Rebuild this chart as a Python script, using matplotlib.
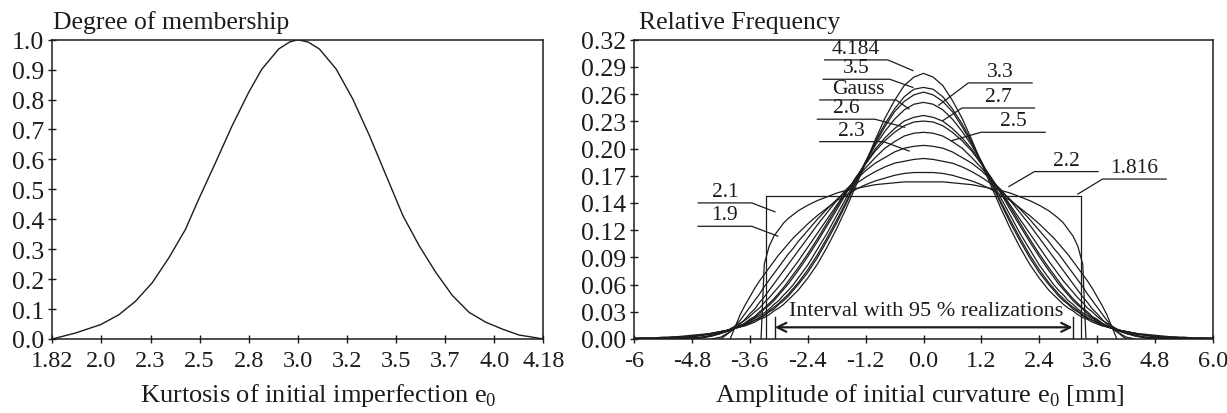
import numpy as np
import matplotlib
matplotlib.use('Agg')
import matplotlib.pyplot as plt

plt.rcParams['font.family'] = ['Liberation Serif', 'DejaVu Serif']
plt.rcParams['mathtext.fontset'] = 'custom'
plt.rcParams['mathtext.rm'] = 'Liberation Serif'

# ---------------- left panel: membership function ----------------
kurt_x = [1.816, 1.928, 2.049, 2.137, 2.217, 2.298, 2.378, 2.458, 2.522, 2.603, 2.683,
          2.763, 2.827, 2.908, 2.96, 3.0, 3.05, 3.104, 3.185, 3.265, 3.346, 3.426, 3.507,
          3.585, 3.665, 3.746, 3.826, 3.907, 3.987, 4.068, 4.115, 4.184]
membership = [0.0, 0.020, 0.048, 0.081, 0.126, 0.188, 0.271, 0.366, 0.467, 0.589, 0.712,
              0.824, 0.902, 0.969, 0.992, 1.0, 0.992, 0.969, 0.902, 0.802, 0.679, 0.546, 0.412,
              0.312, 0.223, 0.145, 0.089, 0.056, 0.033, 0.013, 0.008, 0.0]
left_xticklabels = ['1.82', '2.0', '2.3', '2.5', '2.8', '3.0', '3.2', '3.5', '3.7', '4.0', '4.18']
left_yticklabels = ['0.0', '0.1', '0.2', '0.3', '0.4', '0.5', '0.6', '0.7', '0.8', '0.9', '1.0']

# ---------------- right panel: relative frequency curves ----------------
# amplitude e0 >= 0 (curves are symmetric about 0)
e0 = [0.0, 0.2, 0.4, 0.6, 0.8, 1.0, 1.2, 1.4, 1.6, 1.8, 2.0, 2.2, 2.4, 2.6,
      2.7, 2.8, 2.9, 3.0, 3.1, 3.2, 3.3, 3.4, 3.5, 3.6, 3.7, 3.8,
      4.0, 4.2, 4.4, 4.6, 4.8, 5.0, 5.2, 5.4, 5.6, 5.8, 6.0]
f_4184 = [0.284, 0.280, 0.271, 0.255, 0.236, 0.213, 0.188, 0.164, 0.140, 0.118, 0.098, 0.080, 0.065, 0.052,
          0.047, 0.042, 0.037, 0.033, 0.030, 0.026, 0.023, 0.021, 0.018, 0.016, 0.014, 0.013,
          0.010, 0.008, 0.006, 0.005, 0.004, 0.003, 0.002, 0.002, 0.001, 0.001, 0.001]
f_35 = [0.269, 0.267, 0.259, 0.246, 0.230, 0.211, 0.189, 0.167, 0.145, 0.124, 0.105, 0.087, 0.071, 0.058,
        0.052, 0.046, 0.041, 0.037, 0.032, 0.029, 0.025, 0.022, 0.020, 0.017, 0.015, 0.013,
        0.010, 0.008, 0.006, 0.004, 0.003, 0.002, 0.002, 0.001, 0.001, 0.001, 0.001]
f_33 = [0.264, 0.261, 0.254, 0.243, 0.227, 0.209, 0.190, 0.169, 0.147, 0.127, 0.108, 0.090, 0.074, 0.060,
        0.054, 0.048, 0.043, 0.038, 0.034, 0.030, 0.026, 0.023, 0.020, 0.018, 0.015, 0.013,
        0.010, 0.008, 0.006, 0.004, 0.003, 0.002, 0.002, 0.001, 0.001, 0.001, 0.0]
f_gauss = [0.253, 0.251, 0.245, 0.235, 0.222, 0.207, 0.189, 0.171, 0.151, 0.132, 0.113, 0.096, 0.079, 0.065,
           0.058, 0.052, 0.047, 0.041, 0.037, 0.032, 0.028, 0.025, 0.022, 0.019, 0.016, 0.014,
           0.010, 0.007, 0.005, 0.004, 0.002, 0.002, 0.001, 0.001, 0.0, 0.0, 0.0]
f_27 = [0.239, 0.237, 0.233, 0.225, 0.215, 0.203, 0.188, 0.172, 0.156, 0.138, 0.121, 0.104, 0.088, 0.073,
        0.066, 0.059, 0.053, 0.047, 0.041, 0.036, 0.032, 0.027, 0.023, 0.020, 0.017, 0.014,
        0.010, 0.006, 0.004, 0.002, 0.001, 0.001, 0.0, 0.0, 0.0, 0.0, 0.0]
f_26 = [0.233, 0.232, 0.228, 0.221, 0.212, 0.201, 0.187, 0.173, 0.157, 0.141, 0.124, 0.107, 0.091, 0.076,
        0.069, 0.062, 0.055, 0.049, 0.043, 0.038, 0.033, 0.029, 0.024, 0.021, 0.017, 0.014,
        0.009, 0.006, 0.003, 0.002, 0.001, 0.0, 0.0, 0.0, 0.0, 0.0, 0.0]
f_25 = [0.221, 0.220, 0.217, 0.211, 0.204, 0.194, 0.183, 0.171, 0.158, 0.143, 0.128, 0.113, 0.098, 0.083,
        0.076, 0.069, 0.062, 0.056, 0.050, 0.044, 0.039, 0.033, 0.029, 0.024, 0.020, 0.017,
        0.011, 0.006, 0.003, 0.001, 0.0, 0.0, 0.0]
f_23 = [0.207, 0.206, 0.204, 0.200, 0.194, 0.188, 0.180, 0.170, 0.160, 0.148, 0.135, 0.122, 0.108, 0.094,
        0.087, 0.080, 0.073, 0.066, 0.059, 0.052, 0.045, 0.039, 0.032, 0.027, 0.021, 0.016,
        0.008, 0.002, 0.0]
f_22 = [0.193, 0.192, 0.190, 0.188, 0.184, 0.179, 0.173, 0.166, 0.158, 0.149, 0.139, 0.128, 0.116, 0.104,
        0.097, 0.091, 0.084, 0.077, 0.070, 0.063, 0.056, 0.048, 0.041, 0.034, 0.027, 0.020,
        0.008, 0.0]
f_21 = [0.178, 0.178, 0.177, 0.175, 0.172, 0.169, 0.165, 0.160, 0.154, 0.148, 0.140, 0.132, 0.123, 0.113,
        0.108, 0.102, 0.096, 0.090, 0.083, 0.076, 0.069, 0.062, 0.054, 0.045, 0.036, 0.026,
        0.001]
f_19 = [0.168, 0.168, 0.168, 0.167, 0.166, 0.165, 0.163, 0.161, 0.159, 0.156, 0.152, 0.148, 0.143, 0.137,
        0.133, 0.129, 0.124, 0.117, 0.110, 0.099, 0.080]
edge_21 = 4.004          # curves 2.1 and 1.9 end with a vertical edge
edge_19 = 3.367
uniform_halfwidth = 3.27  # kurtosis 1.816 (rectangular)
uniform_height = 0.153
interval_95 = [-3.08, 3.09]

right_yticklabels = ['0.00', '0.03', '0.06', '0.09', '0.12', '0.14', '0.17', '0.20', '0.23', '0.26', '0.29', '0.32']
right_xticklabels = ['-6', '-4.8', '-3.6', '-2.4', '-1.2', '0.0', '1.2', '2.4', '3.6', '4.8', '6.0']

INK = '#1e1b1c'
fig = plt.figure(figsize=(12.27, 4.14), dpi=100)
ax = fig.add_axes([52.3/1227, 74/414, 491/1227, 299.3/414])
ax2 = fig.add_axes([634/1227, 74/414, 579/1227, 299.3/414])

ax.plot(kurt_x, membership, color=INK, lw=1.0)
ax.set_xlim(1.816, 4.184); ax.set_ylim(0, 1.0)
ax.set_xticks(np.linspace(1.816, 4.184, 11)); ax.set_xticklabels(left_xticklabels)
ax.set_yticks(np.linspace(0, 1, 11)); ax.set_yticklabels(left_yticklabels)
ax.set_xlabel(r'Kurtosis of initial imperfection e$_{\mathregular{0}}$', fontsize=19)
ax.xaxis.set_label_coords(0.541, -0.186)

def sym(xs, ys):
    xs = np.asarray(xs, float); ys = np.asarray(ys, float)
    return np.concatenate([-xs[::-1], xs[1:]]), np.concatenate([ys[::-1], ys[1:]])

for ys in [f_4184, f_35, f_33, f_gauss, f_27, f_26, f_25, f_23, f_22]:
    ax2.plot(*sym(e0[:len(ys)], ys), color=INK, lw=0.9)
for ys, edge in [(f_21, edge_21), (f_19, edge_19)]:
    ax2.plot(*sym(e0[:len(ys)] + [edge], ys + [0.0]), color=INK, lw=0.9)
ua, uh = uniform_halfwidth, uniform_height
ax2.plot([-ua, -ua, ua, ua], [0, uh, uh, 0], color=INK, lw=0.9)

ax2.set_xlim(-6, 6); ax2.set_ylim(0, 0.32)
ax2.set_yticks(np.linspace(0, 0.32, 12)); ax2.set_yticklabels(right_yticklabels)
ax2.set_xticks(np.linspace(-6, 6, 11)); ax2.set_xticklabels(right_xticklabels)
ax2.set_xlabel(r'Amplitude of initial curvature e$_{\mathregular{0}}$ [mm]', fontsize=19)
ax2.xaxis.set_label_coords(0.494, -0.186)

for a_ in (ax, ax2):
    for sp in a_.spines.values():
        sp.set_linewidth(1.1); sp.set_color(INK)
    a_.tick_params(direction='inout', length=6, width=1.0, color=INK, labelcolor=INK)
    a_.tick_params(axis='y', labelsize=18.5, pad=3)
    a_.tick_params(axis='x', labelsize=17.5, pad=5)
    a_.xaxis.label.set_color(INK)
    a_.xaxis.label.set_va('center')

fig.text(53.3/1227, 1-29.3/414, 'Degree of membership', fontsize=18.5, color=INK, va='baseline')
fig.text(638.7/1227, 1-29.3/414, 'Relative Frequency', fontsize=18.5, color=INK, va='baseline')

# curve labels: text, underline from x0 to x1 at height yu, leader to (xe, ye)
labels = [('4.184', -2.05, -0.74, 0.2984, -0.22, 0.287),
          ('3.5', -2.08, -0.70, 0.2777, -0.22, 0.269),
          ('Gauss', -2.15, -0.57, 0.2556, -0.30, 0.246),
          ('2.6', -2.20, -1.01, 0.2350, -0.39, 0.2264),
          ('2.3', -2.15, -0.83, 0.2110, -0.30, 0.201),
          ('3.3', 2.25, 0.93, 0.2738, 0.315, 0.250),
          ('2.7', 2.30, 0.80, 0.2470, 0.40, 0.2335),
          ('2.5', 2.52, 1.19, 0.2210, 0.58, 0.212),
          ('2.2', 3.62, 2.30, 0.1790, 1.77, 0.163),
          ('1.816', 5.03, 3.71, 0.1710, 3.20, 0.155),
          ('2.1', -4.67, -3.56, 0.1455, -3.08, 0.136),
          ('1.9', -4.67, -3.56, 0.1205, -3.02, 0.110)]
for txt, x0, x1, yu, xe, ye in labels:
    ax2.plot([x0, x1, xe], [yu, yu, ye], color=INK, lw=0.9)
    ax2.text((x0 + x1)/2, yu + 0.002, txt, ha='center', va='bottom', fontsize=15.5, color=INK)

i0, i1 = interval_95
ax2.annotate('', xy=(i0, 0.0125), xytext=(i1, 0.0125),
             arrowprops=dict(arrowstyle='<->', lw=1.6, color=INK, mutation_scale=16, shrinkA=0, shrinkB=0))
ax2.plot([i0, i0], [0, 0.024], color=INK, lw=1.0)
ax2.plot([i1, i1], [0, 0.024], color=INK, lw=1.0)
ax2.text(0.05, 0.031, 'Interval with 95 % realizations', ha='center', va='center', fontsize=16, color=INK)

fig.savefig('out.png')
